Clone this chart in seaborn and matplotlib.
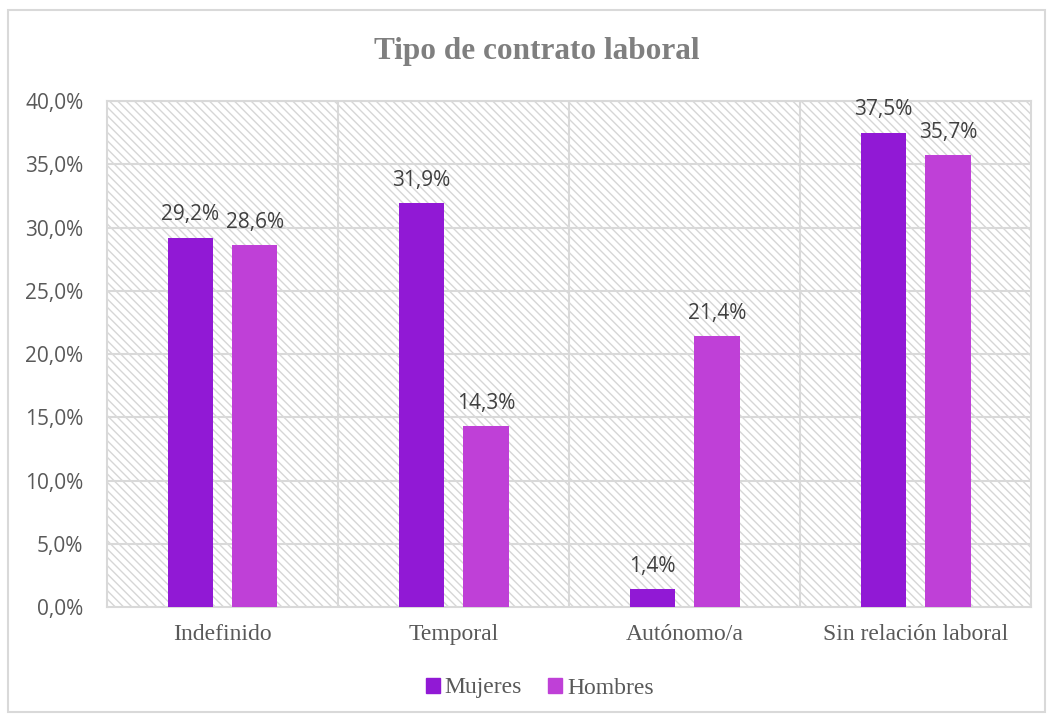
import matplotlib.pyplot as plt
import matplotlib.patches as mpatches
import pandas as pd
import seaborn as sns
from matplotlib.ticker import FuncFormatter

# Data (percent)
categorias = ["Indefinido", "Temporal", "Autónomo/a", "Sin relación laboral"]
mujeres = [29.2, 31.9, 1.4, 37.5]
hombres = [28.6, 14.3, 21.4, 35.7]
series = ["Mujeres", "Hombres"]
colores = ["#9119D5", "#BF40D7"]

df = pd.DataFrame({
    "categoria": categorias * 2,
    "valor": mujeres + hombres,
    "sexo": [series[0]] * len(categorias) + [series[1]] * len(categorias),
})

sns.set_style("white")
plt.rcParams["hatch.linewidth"] = 1.0
grid_col = "#d9d9d9"
text_col = "#595959"

fig = plt.figure(figsize=(10.52, 7.18), dpi=100)
ax = fig.add_axes([0.1017, 0.1546, 0.8785, 0.7047])

# outer chart border
fig.add_artist(mpatches.Rectangle((8 / 1052, 1 - 712 / 718), 1037 / 1052, 702 / 718,
                                  transform=fig.transFigure, fill=False,
                                  edgecolor=grid_col, linewidth=1.5))

# hatched plot-area background
ax.add_patch(mpatches.Rectangle((0, 0), 1, 1, transform=ax.transAxes,
                                facecolor="white", edgecolor="#d6d6d6",
                                linewidth=0, hatch="\\" * 4, zorder=0))

sns.barplot(data=df, x="categoria", y="valor", hue="sexo", palette=colores,
            width=0.56, gap=0.3, ax=ax, zorder=3, saturation=1, linewidth=0)

for cont in ax.containers:
    labels = [f"{b.get_height():.1f}%".replace(".", ",") for b in cont]
    ax.bar_label(cont, labels=labels, padding=9, fontsize=15,
                 color="#404040", family="Open Sans")

ax.set_ylim(0, 40)
ax.set_xlim(-0.5, 3.5)
ax.set_yticks(range(0, 41, 5))
ax.yaxis.set_major_formatter(FuncFormatter(lambda v, p: f"{v:.1f}%".replace(".", ",")))
for y in range(5, 41, 5):
    ax.axhline(y, color=grid_col, linewidth=1.5, zorder=1)
for x in [0.5, 1.5, 2.5]:
    ax.axvline(x, color=grid_col, linewidth=1.5, zorder=1)
for s in ax.spines.values():
    s.set_color(grid_col)
    s.set_linewidth(1.5)

ax.set_xlabel("")
ax.set_ylabel("")
ax.tick_params(axis="y", length=0, pad=17, labelsize=15, labelcolor=text_col)
ax.tick_params(axis="x", length=0, pad=12, labelsize=17, labelcolor=text_col)
for t in ax.get_yticklabels():
    t.set_family("Open Sans")
for t in ax.get_xticklabels():
    t.set_family("Liberation Serif")

fig.text(536.5 / 1052, 1 - 51 / 718, "Tipo de contrato laboral", ha="center", va="center",
         fontsize=22.5, fontweight="bold", color="#7f7f7f", family="Liberation Serif")

handles = [mpatches.Patch(color=c, label=s) for c, s in zip(colores, series)]
ax.get_legend().remove()
fig.legend(handles=handles, loc="center", bbox_to_anchor=(0.513, 1 - 688 / 718),
           ncol=2, frameon=False, handlelength=0.6, handleheight=0.6,
           handletextpad=0.2, columnspacing=1.1,
           prop={"family": "Liberation Serif", "size": 17}, labelcolor=text_col)

fig.savefig("out.png", dpi=100)
